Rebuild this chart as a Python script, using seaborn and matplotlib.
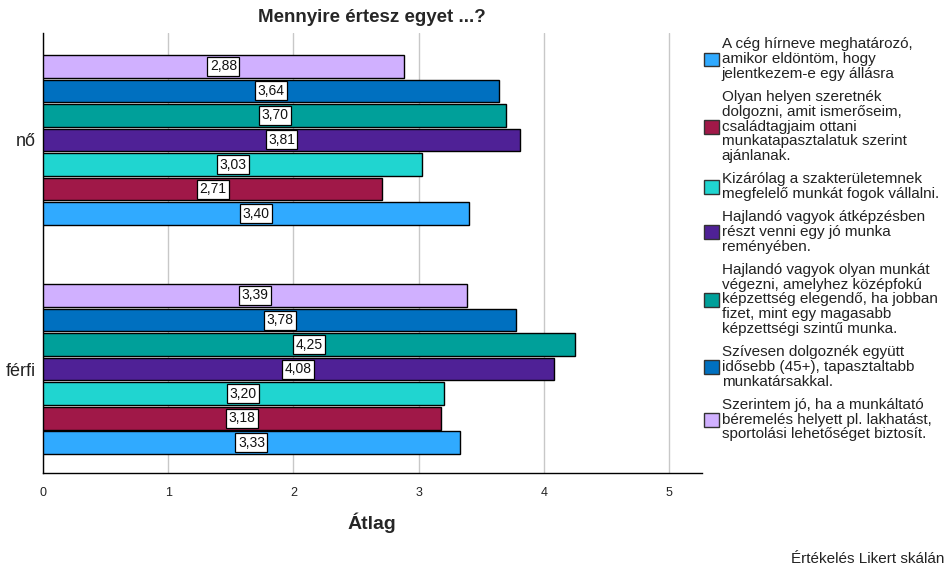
import pandas as pd
import matplotlib
matplotlib.use("Agg")
import matplotlib.pyplot as plt
import seaborn as sns
from matplotlib.patches import Patch

# Data
genders = ["nő", "férfi"]
statements = [
    "A cég hírneve meghatározó,\namikor eldöntöm, hogy\njelentkezem-e egy állásra",
    "Olyan helyen szeretnék\ndolgozni, amit ismerőseim,\ncsaládtagjaim ottani\nmunkatapasztalatuk szerint\najánlanak.",
    "Kizárólag a szakterületemnek\nmegfelelő munkát fogok vállalni.",
    "Hajlandó vagyok átképzésben\nrészt venni egy jó munka\nreményében.",
    "Hajlandó vagyok olyan munkát\nvégezni, amelyhez középfokú\nképzettség elegendő, ha jobban\nfizet, mint egy magasabb\nképzettségi szintű munka.",
    "Szívesen dolgoznék együtt\nidősebb (45+), tapasztaltabb\nmunkatársakkal.",
    "Szerintem jó, ha a munkáltató\nbéremelés helyett pl. lakhatást,\nsportolási lehetőséget biztosít.",
]
no_means = [3.40, 2.71, 3.03, 3.81, 3.70, 3.64, 2.88]
ferfi_means = [3.33, 3.18, 3.20, 4.08, 4.25, 3.78, 3.39]
colors = ["#30aaff", "#a01848", "#20d5d0", "#4f2196", "#00a09a", "#0070c0", "#d0b0ff"]

rows = []
for s, a, b in zip(statements, no_means, ferfi_means):
    rows.append({"nem": "nő", "kerdes": s, "atlag": a})
    rows.append({"nem": "férfi", "kerdes": s, "atlag": b})
df = pd.DataFrame(rows)

sns.set_style("white")
plt.rcParams["font.family"] = ["Liberation Sans", "DejaVu Sans"]

fig = plt.figure(figsize=(9.45, 5.68), dpi=100)
ax = fig.add_axes([0.0455, 0.167, 0.697, 0.775])

# first hue is drawn at the top of each group, so reverse the order
palette = dict(zip(statements, colors))
sns.barplot(data=df, y="nem", x="atlag", hue="kerdes", order=genders,
            hue_order=statements[::-1], palette=palette, orient="h",
            width=0.75, gap=0.08, edgecolor="black", linewidth=1,
            saturation=1, ax=ax, legend=False, zorder=3)

# value labels in the middle of each bar
for cont in ax.containers:
    for bar in cont:
        w = bar.get_width()
        ax.text(w / 2, bar.get_y() + bar.get_height() / 2, f"{w:.2f}".replace(".", ","),
                ha="center", va="center", fontsize=10, zorder=5, color="#111111",
                bbox=dict(boxstyle="square,pad=0.18", fc="white", ec="black", lw=0.9))

ax.set_xlim(0, 5.26)
ax.set_ylim(1.454, -0.467)
ax.set_xticks([0, 1, 2, 3, 4, 5])
ax.set_xticklabels(["0", "1", "2", "3", "4", "5"], fontsize=9)
ax.tick_params(axis="y", labelsize=13, length=0, pad=5, labelcolor="#222222")
ax.tick_params(axis="x", length=0, pad=10, labelcolor="#222222")
ax.xaxis.grid(True, color="#c8c8c8", linewidth=1, zorder=0)
ax.set_axisbelow(True)
for side in ["top", "right"]:
    ax.spines[side].set_visible(False)
for side in ["left", "bottom"]:
    ax.spines[side].set_color("black")
    ax.spines[side].set_linewidth(1)
ax.set_ylabel("")
ax.set_xlabel("Átlag", fontsize=14, fontweight="bold", labelpad=10)
ax.set_title("Mennyire értesz egyet ...?", fontsize=13.5, fontweight="bold", pad=8)

handles = [Patch(facecolor=c, edgecolor="#333333", linewidth=1) for c in colors]
leg = fig.legend(handles, statements, loc="upper left", bbox_to_anchor=(0.738, 0.945),
                 frameon=False, fontsize=11, handlelength=1.0, handleheight=1.0,
                 handletextpad=0.2, labelspacing=0.6, borderaxespad=0)
for t in leg.get_texts():
    t.set_linespacing(1.07)
    t.set_color("#222222")

fig.text(0.999, 0.004, "Értékelés Likert skálán", ha="right", va="bottom", fontsize=11,
         color="#222222")

fig.savefig("out.png", dpi=100)
